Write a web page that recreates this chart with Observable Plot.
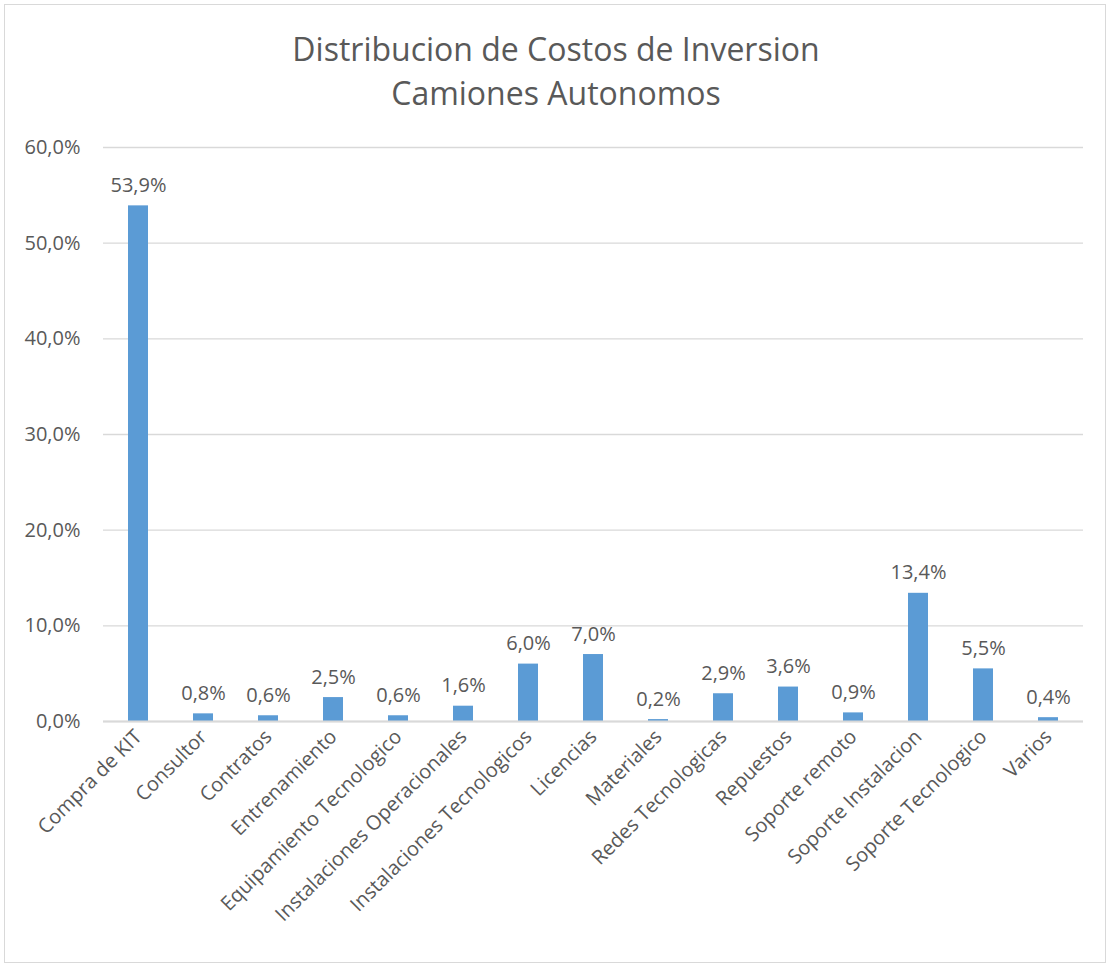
<!DOCTYPE html>
<html>
<head>
<meta charset="utf-8">
<script src="https://cdn.jsdelivr.net/npm/d3@7"></script>
<script src="https://cdn.jsdelivr.net/npm/@observablehq/plot@0.6"></script>
<style>
  html, body { margin: 0; padding: 0; background: #fff; }
  #wrap { position: relative; width: 1112px; height: 969px; overflow: hidden; }
  #frame { position: absolute; left: 4px; top: 4px; width: 1102px; height: 959px; border: 1px solid #d9d9d9; box-sizing: border-box; }
  #title { position: absolute; left: 0; top: 27px; width: 1112px; text-align: center; font-family: "Open Sans", sans-serif; font-size: 32px; line-height: 44px; color: #595959; }
  #chart { position: absolute; left: 0; top: 0; }
</style>
</head>
<body>
<div id="wrap">
  <div id="frame"></div>
  <div id="chart"></div>
  <div id="title">Distribucion de Costos de Inversion<br>Camiones Autonomos</div>
</div>
<script>
const categories = ["Compra de KIT", "Consultor", "Contratos", "Entrenamiento", "Equipamiento Tecnologico", "Instalaciones Operacionales", "Instalaciones Tecnologicos", "Licencias", "Materiales", "Redes Tecnologicas", "Repuestos", "Soporte remoto", "Soporte Instalacion", "Soporte Tecnologico", "Varios"];
const values = [53.9, 0.8, 0.6, 2.5, 0.6, 1.6, 6.0, 7.0, 0.2, 2.9, 3.6, 0.9, 13.4, 5.5, 0.4];
const yTicks = [0, 10, 20, 30, 40, 50, 60];

const data = categories.map((c, i) => ({category: c, value: values[i]}));
const fmt = v => v.toFixed(1).replace(".", ",") + "%";

const plot = Plot.plot({
  width: 1112,
  height: 969,
  marginLeft: 103,
  marginRight: 29,
  marginTop: 147,
  marginBottom: 248,
  style: {fontFamily: "Open Sans, sans-serif", fontSize: "20px", color: "#595959", background: "transparent"},
  x: {domain: categories, paddingInner: 0.69, paddingOuter: 0.345, label: null},
  y: {domain: [0, 60], ticks: yTicks, label: null},
  marks: [
    Plot.gridY(yTicks, {stroke: "#d9d9d9", strokeOpacity: 1, strokeWidth: 1.3}),
    Plot.axisY(yTicks, {tickSize: 0, tickPadding: 23, tickFormat: fmt, fontSize: 20, fill: "#595959", label: null}),
    Plot.axisX({tickSize: 0, tickPadding: 12, tickRotate: -45, fontSize: 20, fill: "#595959", label: null}),
    Plot.barY(data, {x: "category", y: "value", fill: "#5b9bd5"}),
    Plot.ruleY([0], {stroke: "#d9d9d9", strokeWidth: 2}),
    Plot.text(data, {x: "category", y: "value", text: d => fmt(d.value), lineAnchor: "bottom", dy: -14, fontSize: 20, fill: "#595959"})
  ]
});
document.getElementById("chart").appendChild(plot);
</script>
</body>
</html>
